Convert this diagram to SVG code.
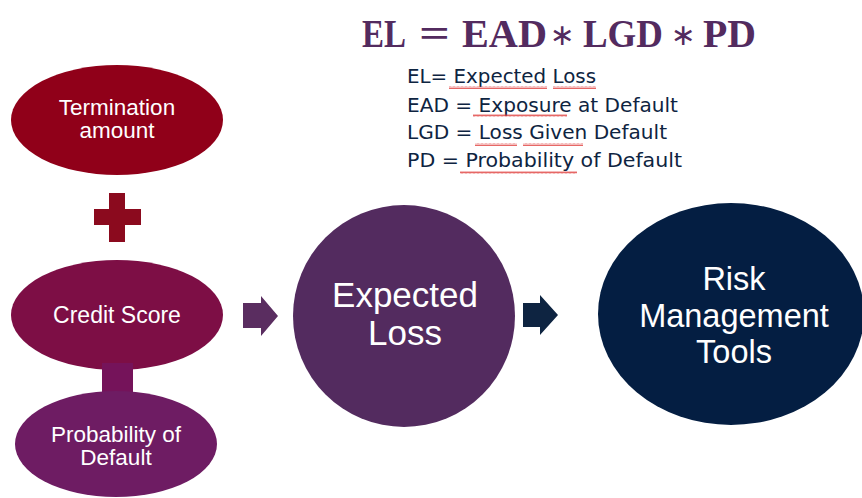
<svg xmlns="http://www.w3.org/2000/svg" width="862" height="498" viewBox="0 0 862 498">
<style>
.nt{font-family:"Liberation Sans",Arial,sans-serif;fill:#ffffff;text-anchor:middle}
.def{font-family:"DejaVu Sans","Noto Sans",sans-serif;font-size:20px;fill:#0E2441}
.ttl{font-family:"Liberation Serif","DejaVu Serif",serif;font-weight:bold;font-size:41px;fill:#532B5F}
.ast{font-family:"DejaVu Sans",sans-serif;font-size:30px;fill:#532B5F;text-anchor:middle}
</style>
<defs>
<pattern id="wave" width="4" height="3" patternUnits="userSpaceOnUse">
<path d="M0 2.5 L1 0.5 L2 2.5 L3 0.5 L4 2.5" fill="none" stroke="#E0413F" stroke-width="0.8"/>
</pattern>
</defs>
<rect width="862" height="498" fill="#ffffff"/>

<g id="formula">
<text class="ttl" y="47"><tspan x="362" textLength="44" lengthAdjust="spacingAndGlyphs">EL</tspan></text>
<text class="ttl" y="47"><tspan x="419" textLength="31" lengthAdjust="spacingAndGlyphs">=</tspan></text>
<text class="ttl" y="47"><tspan x="462" textLength="85" lengthAdjust="spacingAndGlyphs">EAD</tspan></text>
<text class="ast" x="562" y="45">∗</text>
<text class="ttl" y="47"><tspan x="583" textLength="80" lengthAdjust="spacingAndGlyphs">LGD</tspan></text>
<text class="ast" x="683" y="45">∗</text>
<text class="ttl" y="47"><tspan x="703" textLength="53" lengthAdjust="spacingAndGlyphs">PD</tspan></text>
<text class="def" x="407" y="83" textLength="189" lengthAdjust="spacingAndGlyphs">EL= Expected Loss</text>
<text class="def" x="407" y="112" textLength="271" lengthAdjust="spacingAndGlyphs">EAD = Exposure at Default</text>
<text class="def" x="407" y="139" textLength="260" lengthAdjust="spacingAndGlyphs">LGD = Loss Given Default</text>
<text class="def" x="407" y="167" textLength="275" lengthAdjust="spacingAndGlyphs">PD = Probability of Default</text>
<rect x="449" y="86" width="98" height="3" fill="url(#wave)"/>
<rect x="553" y="86" width="43" height="3" fill="url(#wave)"/>
<rect x="473" y="114" width="94" height="3" fill="url(#wave)"/>
<rect x="475" y="143" width="42" height="3" fill="url(#wave)"/>
<rect x="523" y="143" width="60" height="3" fill="url(#wave)"/>
<rect x="460" y="171" width="117" height="3" fill="url(#wave)"/>
</g>

<g id="termination">
<ellipse cx="117" cy="120" rx="106" ry="55" fill="#900019"/>
<text class="nt" x="117" y="115" font-size="22.5">Termination</text>
<text class="nt" x="117" y="138" font-size="22.5">amount</text>
</g>

<g id="plus">
<rect x="94" y="209" width="47" height="16" fill="#8B0A1E"/>
<rect x="109" y="193" width="16" height="49" fill="#8B0A1E"/>
</g>

<g id="credit-score">
<ellipse cx="117" cy="315" rx="106" ry="55" fill="#7D0E45"/>
<text class="nt" x="117" y="323" font-size="23">Credit Score</text>
</g>

<g id="link">
<rect x="102" y="363" width="31" height="30" fill="#75135A"/>
</g>

<g id="probability-default">
<ellipse cx="116" cy="444" rx="101" ry="53" fill="#6E1C63"/>
<text class="nt" x="116" y="442" font-size="22.5">Probability of</text>
<text class="nt" x="116" y="465" font-size="22.5">Default</text>
</g>

<g id="expected-loss">
<circle cx="404" cy="316" r="111" fill="#532B5F"/>
<text class="nt" x="405" y="307" font-size="35">Expected</text>
<text class="nt" x="405" y="345" font-size="35">Loss</text>
</g>

<g id="risk-tools">
<ellipse cx="731" cy="314" rx="133" ry="111" fill="#041E42"/>
<text class="nt" x="734" y="290" font-size="32.5">Risk</text>
<text class="nt" x="734" y="327" font-size="32.5">Management</text>
<text class="nt" x="734" y="363" font-size="32.5">Tools</text>
</g>

<g id="connectors">
<polygon points="243,303 261,303 261,296 278,316 261,336 261,328 243,328" fill="#5A2D60"/>
<polygon points="523,303 540,303 540,295 558,315 540,335 540,327 523,327" fill="#0E2441"/>
</g>
</svg>
